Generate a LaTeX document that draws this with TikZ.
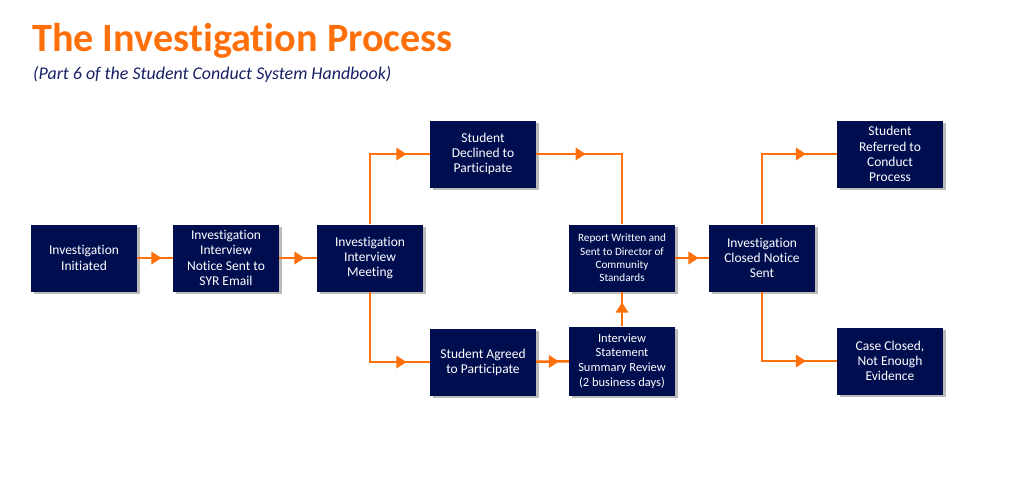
\documentclass[tikz,border=0pt]{standalone}
\usepackage{fontspec}
\setmainfont{Carlito}[Ligatures=NoCommon]
\usetikzlibrary{shapes.geometric,shadows}

\definecolor{boxnavy}{RGB}{0,14,80}
\definecolor{textnavy}{RGB}{24,32,100}
\definecolor{flworange}{RGB}{255,112,10}

\tikzset{
  stepbox/.style={rectangle, fill=boxnavy, text=white, align=center,
    minimum width=106pt, minimum height=67pt, inner sep=2pt,
    font=\fontsize{13.5}{15.2}\selectfont,
    drop shadow={shadow xshift=2.5pt, shadow yshift=-2.5pt, fill=black!60, opacity=.45}},
  flow/.style={draw=flworange, line width=2.5pt},
  tip/.style={isosceles triangle, isosceles triangle apex angle=70, fill=flworange,
    inner sep=0pt, minimum height=10pt, minimum width=13pt, isosceles triangle stretches}
}

\begin{document}
\begin{tikzpicture}[x=1pt,y=-1pt]

        \useasboundingbox (0,0) rectangle (1024,476);

        \node[anchor=base west, inner sep=0pt, text=flworange, font=\fontsize{40.2}{46}\selectfont\bfseries]
          (title) at (32,52) {The Investigation Process};
        \node[anchor=base west, inner sep=0pt, text=textnavy, font=\fontsize{17.9}{20}\selectfont\itshape]
          (subtitle) at (33,80) {(Part 6 of the Student Conduct System Handbook)};

        \begin{scope}[every node/.style={stepbox}]
          \node (init)      at (84,258)  {Investigation\\Initiated};
          \node (notice)    at (226,258) {Investigation\\Interview\\Notice Sent to\\SYR Email};
          \node (meeting)   at (370,258) {Investigation\\Interview\\Meeting};
          \node (declined)  at (483,154) {Student\\Declined to\\Participate};
          \node (agreed)    at (483,362) {Student Agreed\\to Participate};
          \node[font=\fontsize{11.2}{13.3}\selectfont]
                (report)    at (622,258) {Report Written and\\Sent to Director of\\Community\\Standards};
          \node[font=\fontsize{12.5}{14.7}\selectfont, minimum height=69pt]
                (review)    at (622,361) {Interview\\Statement\\Summary Review\\(2 business days)};
          \node (closed)    at (762,258) {Investigation\\Closed Notice\\Sent};
          \node (referred)  at (890,154) {Student\\Referred to\\Conduct\\Process};
          \node (notenough) at (890,361) {Case Closed,\\Not Enough\\Evidence};
        \end{scope}

        % connectors, arrow head half way along
        \draw[flow] (init) -- node[tip] {} (notice);
        \draw[flow] (notice) -- node[tip] {} (meeting);
        \draw[flow] (meeting.north) |- node[tip, pos=.75] {} (declined.west);
        \draw[flow] (meeting.south) |- node[tip, pos=.75] {} (agreed.west);
        \draw[flow] (declined.east) -| node[tip, pos=.25] {} (report.north);
        \draw[flow] (agreed) -- node[tip] {} (review);
        \draw[flow] (review) -- node[tip, shape border rotate=90] {} (report);
        \draw[flow] (report) -- node[tip] {} (closed);
        \draw[flow] (closed.north) |- node[tip, pos=.75] {} (referred.west);
        \draw[flow] (closed.south) |- node[tip, pos=.75] {} (notenough.west);

      \end{tikzpicture}
\end{document}
